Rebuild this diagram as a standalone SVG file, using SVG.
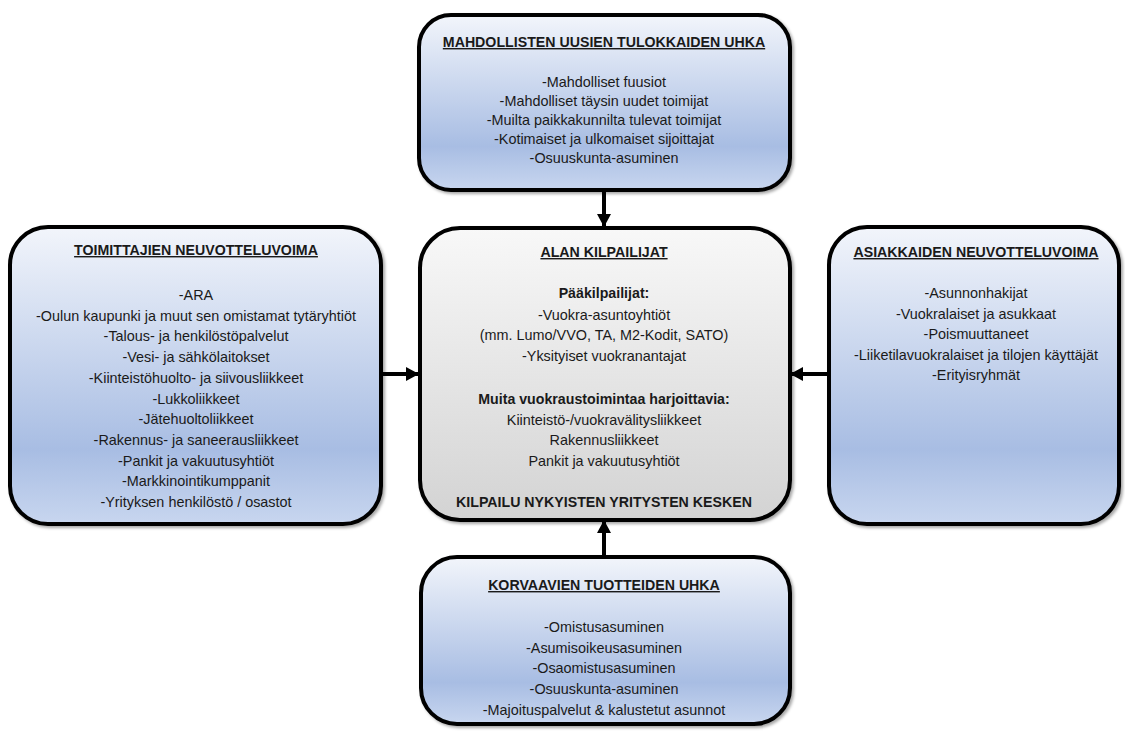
<svg xmlns="http://www.w3.org/2000/svg" width="1125" height="731" viewBox="0 0 1125 731">
  <defs>
    <linearGradient id="blueFill" x1="0" y1="0" x2="0" y2="1">
      <stop offset="0" stop-color="#f2f5fb"/>
      <stop offset="0.75" stop-color="#a8bde3"/>
      <stop offset="1" stop-color="#c8d6ef"/>
    </linearGradient>
    <linearGradient id="grayFill" x1="0" y1="0" x2="0" y2="1">
      <stop offset="0" stop-color="#f8f8f8"/>
      <stop offset="1" stop-color="#d3d3d3"/>
    </linearGradient>
    <filter id="shadow" x="-5%" y="-5%" width="115%" height="115%">
      <feDropShadow dx="2" dy="2" stdDeviation="1.5" flood-color="#000" flood-opacity="0.35"/>
    </filter>
    <marker id="head" markerUnits="userSpaceOnUse" markerWidth="14" markerHeight="14" viewBox="0 0 14 14" refX="12" refY="7" orient="auto">
      <path d="M0,0 L13,7 L0,14 Z" fill="#000"/>
    </marker>
  </defs>
  <style>
    .box { stroke: #000; stroke-width: 4; filter: url(#shadow); }
    .blue { fill: url(#blueFill); }
    .gray { fill: url(#grayFill); }
    text { font-family: "Liberation Sans", Arial, sans-serif; font-size: 14.4px; fill: #1a1a1a; text-anchor: middle; }
    .title { font-weight: bold; font-size: 14.2px; text-decoration: underline; }
    .bold { font-weight: bold; font-size: 14.2px; }
    .conn { stroke: #000; stroke-width: 4; fill: none; marker-end: url(#head); }
  </style>

  <rect width="1125" height="731" fill="#ffffff"/>

  <!-- connectors -->
  <g id="connectors">
    <line class="conn" x1="604" y1="191" x2="604" y2="226"/>
    <line class="conn" x1="382" y1="374" x2="418" y2="374"/>
    <line class="conn" x1="827" y1="374" x2="791" y2="374"/>
    <line class="conn" x1="604" y1="556" x2="604" y2="521"/>
  </g>

  <!-- threat of new entrants -->
  <g id="new-entrants">
    <rect class="box blue" x="419" y="15" width="371" height="175" rx="32"/>
    <text x="604" y="47" class="title">MAHDOLLISTEN UUSIEN TULOKKAIDEN UHKA</text>
    <text x="604" y="87">-Mahdolliset fuusiot</text>
    <text x="604" y="106">-Mahdolliset täysin uudet toimijat</text>
    <text x="604" y="125">-Muilta paikkakunnilta tulevat toimijat</text>
    <text x="604" y="144">-Kotimaiset ja ulkomaiset sijoittajat</text>
    <text x="604" y="163">-Osuuskunta-asuminen</text>
  </g>

  <!-- supplier bargaining power -->
  <g id="suppliers">
    <rect class="box blue" x="10" y="227" width="371" height="297" rx="38"/>
    <text x="196" y="255" class="title">TOIMITTAJIEN NEUVOTTELUVOIMA</text>
    <text x="196" y="300">-ARA</text>
    <text x="196" y="320.7">-Oulun kaupunki ja muut sen omistamat tytäryhtiöt</text>
    <text x="196" y="341.4">-Talous- ja henkilöstöpalvelut</text>
    <text x="196" y="362.1">-Vesi- ja sähkölaitokset</text>
    <text x="196" y="382.8">-Kiinteistöhuolto- ja siivousliikkeet</text>
    <text x="196" y="403.5">-Lukkoliikkeet</text>
    <text x="196" y="424.2">-Jätehuoltoliikkeet</text>
    <text x="196" y="444.9">-Rakennus- ja saneerausliikkeet</text>
    <text x="196" y="465.6">-Pankit ja vakuutusyhtiöt</text>
    <text x="196" y="486.3">-Markkinointikumppanit</text>
    <text x="196" y="507">-Yrityksen henkilöstö / osastot</text>
  </g>

  <!-- industry competitors -->
  <g id="competitors">
    <rect class="box gray" x="420" y="228" width="370" height="292" rx="40"/>
    <text x="604" y="257" class="title">ALAN KILPAILIJAT</text>
    <text x="604" y="298" class="bold">Pääkilpailijat:</text>
    <text x="604" y="320">-Vuokra-asuntoyhtiöt</text>
    <text x="604" y="340">(mm. Lumo/VVO, TA, M2-Kodit, SATO)</text>
    <text x="604" y="361">-Yksityiset vuokranantajat</text>
    <text x="604" y="404" class="bold">Muita vuokraustoimintaa harjoittavia:</text>
    <text x="604" y="425">Kiinteistö-/vuokravälitysliikkeet</text>
    <text x="604" y="445">Rakennusliikkeet</text>
    <text x="604" y="466">Pankit ja vakuutusyhtiöt</text>
    <text x="604" y="507" class="bold">KILPAILU NYKYISTEN YRITYSTEN KESKEN</text>
  </g>

  <!-- customer bargaining power -->
  <g id="customers">
    <rect class="box blue" x="829" y="227" width="290" height="297" rx="38"/>
    <text x="976" y="257" class="title">ASIAKKAIDEN NEUVOTTELUVOIMA</text>
    <text x="976" y="298">-Asunnonhakijat</text>
    <text x="976" y="319">-Vuokralaiset ja asukkaat</text>
    <text x="976" y="339">-Poismuuttaneet</text>
    <text x="976" y="360">-Liiketilavuokralaiset ja tilojen käyttäjät</text>
    <text x="976" y="380">-Erityisryhmät</text>
  </g>

  <!-- threat of substitutes -->
  <g id="substitutes">
    <rect class="box blue" x="421" y="557" width="369" height="167" rx="36"/>
    <text x="604" y="590" class="title">KORVAAVIEN TUOTTEIDEN UHKA</text>
    <text x="604" y="632">-Omistusasuminen</text>
    <text x="604" y="653">-Asumisoikeusasuminen</text>
    <text x="604" y="673">-Osaomistusasuminen</text>
    <text x="604" y="694">-Osuuskunta-asuminen</text>
    <text x="604" y="715">-Majoituspalvelut &amp; kalustetut asunnot</text>
  </g>
</svg>
